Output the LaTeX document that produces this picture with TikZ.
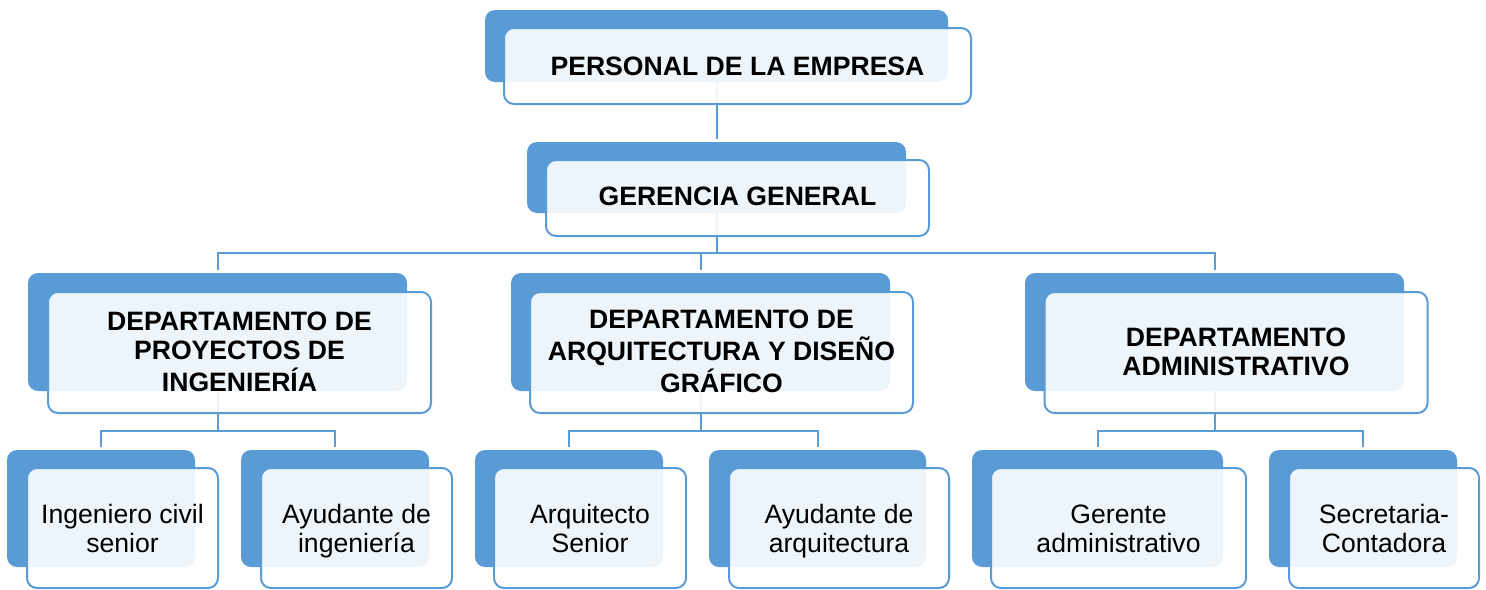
\documentclass[tikz,border=0pt]{standalone}
\usepackage{fontspec}
\setmainfont{Liberation Sans}
\definecolor{azul}{HTML}{5B9BD5}
\newcommand{\caja}[2][14.2pt]{\begin{tabular}[t]{@{}c@{}}\rule{0pt}{#1}#2\end{tabular}}
\begin{document}
\begin{tikzpicture}[x=.5pt, y=-.5pt,
    fondo/.style={fill=azul, rounded corners=5pt, inner sep=0pt},
    frente/.style={draw=azul, line width=1pt, fill=white, fill opacity=.9, text opacity=1,
        rounded corners=5pt, inner sep=0pt, font=\fontsize{13.3}{14.15}\selectfont},
    titulo/.style={frente, font=\fontsize{13.3}{14.15}\selectfont\bfseries},
    linea/.style={draw=azul, line width=1pt, shorten >=1.5pt}]
    \useasboundingbox (0,0) rectangle (1486,589);
    \node[fondo, minimum width=231.5pt, minimum height=36pt](pb)at(716.5, 46){};
    \node[fondo, minimum width=189.5pt, minimum height=35.5pt](gb)at(716.5, 177.5){};
    \node[fondo, minimum width=189.5pt, minimum height=59pt](d1b)at(217.5, 332){};
    \node[fondo, minimum width=189.5pt, minimum height=59pt](d2b)at(700.5, 332){};
    \node[fondo, minimum width=189.5pt, minimum height=59pt](d3b)at(1214.5, 332){};
    \node[fondo, minimum width=94pt, minimum height=58.5pt](c11b)at(101, 508.5){};
    \node[fondo, minimum width=94pt, minimum height=58.5pt](c12b)at(335, 508.5){};
    \node[fondo, minimum width=94pt, minimum height=58.5pt](c21b)at(569, 508.5){};
    \node[fondo, minimum width=108.5pt, minimum height=58.5pt](c22b)at(817.5, 508.5){};
    \node[fondo, minimum width=125.5pt, minimum height=58.5pt](c31b)at(1097.5, 508.5){};
    \node[fondo, minimum width=94pt, minimum height=58.5pt](c32b)at(1363, 508.5){};

    \coordinate(b0)at(716.5, 253);
    \coordinate(b1)at(217.5, 431);
    \coordinate(b2)at(700.5, 431);
    \coordinate(b3)at(1214.5, 431);
    \draw[linea](pb.south)--(gb.north);
    \draw[linea, shorten >=0pt](gb.south)--(b0);
    \draw[linea](b0)-|(d1b.north);
    \draw[linea](b0)-|(d2b.north);
    \draw[linea](b0)-|(d3b.north);
    \draw[linea, shorten >=0pt](d1b.south)--(b1);
    \draw[linea](b1)-|(c11b.north);
    \draw[linea](b1)-|(c12b.north);
    \draw[linea, shorten >=0pt](d2b.south)--(b2);
    \draw[linea](b2)-|(c21b.north);
    \draw[linea](b2)-|(c22b.north);
    \draw[linea, shorten >=0pt](d3b.south)--(b3);
    \draw[linea](b3)-|(c31b.north);
    \draw[linea](b3)-|(c32b.north);

    \node[titulo, minimum width=233.5pt, minimum height=38pt](p)at(737.5, 66){\caja[13.6pt]{PERSONAL DE LA EMPRESA}};
    \node[titulo, minimum width=191.5pt, minimum height=38pt](g)at(737.5, 198){\caja[11.8pt]{GERENCIA GENERAL}};
    \node[titulo, minimum width=191.5pt, minimum height=60.5pt](d1)at(239.5, 352.5){\caja[12.8pt]{DEPARTAMENTO DE\\PROYECTOS DE\\INGENIERÍA}};
    \node[titulo, minimum width=191.5pt, minimum height=60.5pt](d2)at(721.5, 352.5){\caja[12.6pt]{DEPARTAMENTO DE\\ARQUITECTURA Y DISEÑO\\GRÁFICO}};
    \node[titulo, minimum width=191.5pt, minimum height=60.5pt](d3)at(1236, 352.5){\caja[12.6pt]{DEPARTAMENTO\\ADMINISTRATIVO}};
    \node[frente, minimum width=95.5pt, minimum height=60pt](c11)at(122.5, 528){\caja{Ingeniero civil\\senior}};
    \node[frente, minimum width=95.5pt, minimum height=60pt](c12)at(356.5, 528){\caja{Ayudante de\\ingeniería}};
    \node[frente, minimum width=96pt, minimum height=60pt](c21)at(590, 528){\caja{Arquitecto\\Senior}};
    \node[frente, minimum width=110pt, minimum height=60pt](c22)at(839, 528){\caja{Ayudante de\\arquitectura}};
    \node[frente, minimum width=127.5pt, minimum height=60pt](c31)at(1118.5, 528){\caja{Gerente\\administrativo}};
    \node[frente, minimum width=95pt, minimum height=60pt](c32)at(1384, 528){\caja{Secretaria-\\Contadora}};
\end{tikzpicture}
\end{document}
